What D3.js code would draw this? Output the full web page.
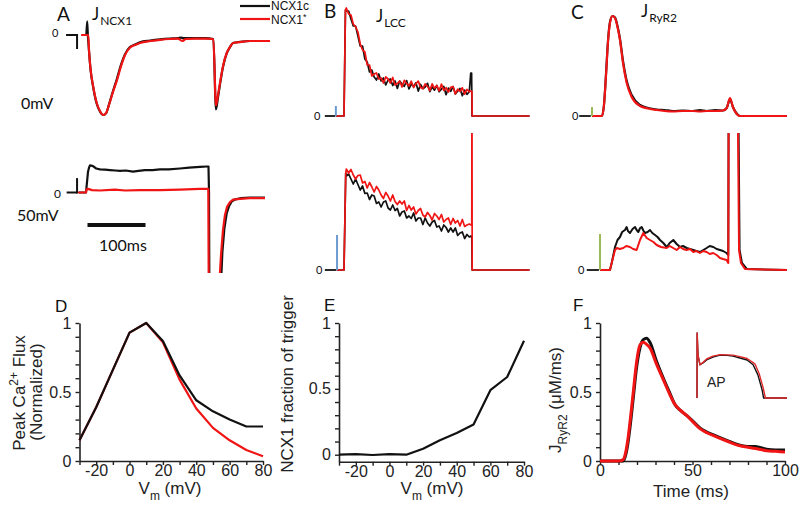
<!DOCTYPE html>
<html><head><meta charset="utf-8">
<script src="https://cdn.jsdelivr.net/npm/d3@7"></script>
<style>
body{margin:0;background:#fff}
svg{display:block}
.lato{font-family:Lato,"Liberation Sans",sans-serif}
.hel{font-family:"Liberation Sans",Arial,sans-serif}
</style>
</head><body>
<svg id="c" width="800" height="510"></svg>
<script>
// ---------------- DATA ----------------
const RED = "#f01414", BLK = "#111111";
// Panel A top (0 mV) J_NCX1, normalised units (time in ms)
const aTopT    = [-11,-1,1.4,2.6,5.5,9.5,15.9,21.6,27.2,32,37,44,51,57.8,64.7,73,82,90.5,107.8,125,142,156,163,170,185,202.6,217,221.5,225,228.4,233.6,240,245.7,251,263,280,314.7];
const aTopRed  = [0,0,0,-0.19,-0.44,-0.63,-0.85,-0.95,-1.0,-0.975,-0.875,-0.71,-0.56,-0.39,-0.25,-0.16,-0.125,-0.1,-0.075,-0.06,-0.05,-0.045,-0.075,-0.05,-0.045,-0.045,-0.05,-0.88,-0.75,-0.6,-0.39,-0.225,-0.15,-0.1,-0.09,-0.075,-0.075];
const aTopBlkT = [-2,-0.6,0.6,2.6,5.5,9.5,15.9,21.6,27.2,32,37,44,51,57.8,64.7,73,82,90.5,107.8,125,142,156,161,166,185,202.6,217,221.5,225,228.4,233.6,240,245.7,251,263,280,314.7];
const aTopBlk  = [0,0.17,0,-0.2,-0.45,-0.64,-0.86,-0.96,-1.0,-0.98,-0.87,-0.70,-0.54,-0.37,-0.24,-0.15,-0.12,-0.09,-0.07,-0.055,-0.045,-0.04,-0.032,-0.04,-0.04,-0.04,-0.05,-0.93,-0.78,-0.62,-0.40,-0.23,-0.15,-0.1,-0.085,-0.075,-0.075];
// Panel A bottom (50 mV)
const aBotBlkT = [-14.7,-2.6,0.9,2.6,4.3,9.5,15,21.6,30,38.8,48,56,66,78.4,88,99,112,125,140,159.5,175,194,206,208.6,209.5,210.5,229.5,231,232.5,236,240,244,249,255,265,280,306];
const aBotBlk  = [0,0,0.26,0.31,0.34,0.33,0.30,0.29,0.285,0.28,0.275,0.27,0.275,0.26,0.27,0.28,0.28,0.29,0.29,0.30,0.31,0.32,0.325,0.325,0,-2,-1.5,-1.0,-0.75,-0.45,-0.26,-0.17,-0.11,-0.085,-0.07,-0.065,-0.065];
const aBotRedT = [-16.4,-2.6,-1.7,0.9,7.8,21.6,47,64.7,90.5,125,159.5,194,207.5,208.3,209.5,226.8,228.4,230.2,233.6,237,240.5,245.7,250.9,263,280,306];
const aBotRed  = [0,0,0.04,0.045,0.03,0.025,0.035,0.025,0.03,0.03,0.035,0.045,0.045,0.045,-2,-2,-1.0,-0.78,-0.47,-0.28,-0.18,-0.12,-0.09,-0.08,-0.07,-0.07];
// Panel B J_LCC : edges + noisy segment sampled every 4 ms from t = 4 to 216
const bStep = 4, bStart = 4;
const bTopPreT = [-14,0,2.5], bTopPre = [0,0,1.06];
const bTopRed = [1.08,1.02,1.01,0.92,0.89,0.84,0.72,0.66,0.64,0.51,0.51,0.40,0.42,0.43,0.37,0.38,0.33,0.39,0.37,0.33,0.385,0.31,0.325,0.35,0.29,0.357,0.324,0.30,0.348,0.285,0.322,0.349,0.286,0.273,0.32,0.297,0.254,0.321,0.278,0.305,0.252,0.319,0.256,0.283,0.24,0.287,0.294,0.221,0.268,0.245,0.282,0.219,0.266,0.243];
const bTopBlk = [1.05,1.05,0.97,0.90,0.90,0.80,0.70,0.70,0.57,0.54,0.44,0.46,0.39,0.36,0.42,0.35,0.38,0.31,0.36,0.37,0.305,0.35,0.275,0.35,0.32,0.297,0.354,0.271,0.318,0.295,0.332,0.249,0.316,0.273,0.29,0.327,0.244,0.291,0.258,0.305,0.242,0.269,0.296,0.213,0.28,0.247,0.294,0.221,0.248,0.275,0.202,0.259,0.216,0.243];
const bTopRedEndT = [219,220.5,221,320], bTopRedEnd = [0.25,0.25,0,0];
const bTopBlkEndT = [218.5,220,220.7,320], bTopBlkEnd = [0.43,0.43,0,0];
const bBotPreT = [-12,0,3], bBotPre = [0,0,0.97];
const bBotRed = [1.01,0.97,1.005,0.95,0.91,0.945,0.95,0.87,0.885,0.82,0.875,0.83,0.78,0.835,0.80,0.75,0.715,0.775,0.74,0.69,0.75,0.685,0.655,0.69,0.66,0.69,0.595,0.645,0.60,0.63,0.56,0.595,0.615,0.55,0.53,0.575,0.545,0.50,0.565,0.54,0.505,0.555,0.48,0.505,0.52,0.455,0.515,0.47,0.495,0.44,0.505,0.435,0.45,0.46];
const bBotBlk = [0.94,0.96,0.91,0.86,0.91,0.855,0.80,0.84,0.765,0.77,0.705,0.75,0.74,0.665,0.68,0.63,0.68,0.69,0.62,0.60,0.65,0.595,0.615,0.54,0.58,0.59,0.52,0.54,0.515,0.57,0.49,0.52,0.52,0.455,0.52,0.47,0.44,0.48,0.495,0.43,0.44,0.39,0.45,0.425,0.38,0.42,0.38,0.42,0.345,0.37,0.38,0.315,0.355,0.33];
const bBotRedEndT = [219,220.3,220.6,221,320], bBotRedEnd = [0.45,0.45,2.0,0,0];
const bBotBlkEndT = [219,220.3,221,320], bBotBlkEnd = [0.34,0.34,0,0];
// Panel C J_RyR2
const cTopT   = [-19,-1.7,1.7,5.2,8.6,12,16.4,20.7,25,29.3,34.5,40.9,49.5,63.8,78,92.6,106,120.7,138,155,167,178.8,193,206.9,213.3,219,224,230.5,236,317];
const cTopRed = [0,0,0.11,0.41,0.74,0.93,1.0,0.98,0.89,0.76,0.53,0.33,0.19,0.10,0.075,0.06,0.05,0.045,0.05,0.05,0.045,0.05,0.05,0.055,0.08,0.18,0.09,0.02,0,0];
const cTopBlk = [0,0,0.11,0.42,0.75,0.94,1.0,0.985,0.90,0.77,0.55,0.35,0.21,0.11,0.08,0.065,0.06,0.05,0.055,0.05,0.06,0.05,0.06,0.055,0.08,0.17,0.09,0.025,0,0];
const cBotRedT = [-5,12,15,20.7,24,29,35,40,46.5,52,58,63.8,69.5,75.3,81,87,92.5,100,109.8,115,121,127,132.8,138,144,150,155.7,161,167,173,178.8,184,190,196,201.7,207,213,216,216.6,232.5,234.5,237.9,244.8,317];
const cBotRed  = [0,0,0.07,0.20,0.22,0.21,0.22,0.24,0.23,0.21,0.20,0.30,0.37,0.32,0.30,0.28,0.25,0.23,0.22,0.24,0.22,0.20,0.23,0.21,0.20,0.21,0.18,0.19,0.17,0.19,0.18,0.16,0.17,0.15,0.12,0.11,0.10,0.07,1.6,1.6,0.2,0.07,0.01,0];
const cBotBlkT = [-5,12,15,20.7,25,29.3,33,37.9,40.8,43,46.5,51,55.2,58,60.9,64,66.7,70,72.4,77,81,85,89.7,94,98.3,104,109.8,115,121.2,127,132.8,138,144.3,150,155.7,161,167.2,173,178.7,184,190.2,196,201.7,207,213,216,216.6,233.5,235.5,239.6,248,317];
const cBotBlk  = [0,0,0.07,0.23,0.30,0.33,0.38,0.40,0.43,0.39,0.37,0.41,0.43,0.40,0.38,0.42,0.43,0.39,0.37,0.38,0.40,0.37,0.35,0.33,0.30,0.27,0.23,0.27,0.30,0.26,0.23,0.24,0.22,0.21,0.20,0.19,0.18,0.20,0.22,0.24,0.23,0.21,0.20,0.19,0.17,0.15,1.6,1.6,0.2,0.07,0.01,0];
// Panel D
const vm = [-30,-20,-10,0,10,20,30,40,50,60,70,80];
const dBlk = [0.15,0.39,0.66,0.93,1.0,0.87,0.62,0.44,0.36,0.30,0.25,0.25];
const dRed = [0.15,0.39,0.66,0.93,1.0,0.86,0.59,0.38,0.24,0.15,0.08,0.035];
// Panel E
const eFrac = [0.0,0.005,-0.002,0.004,0.0,0.045,0.11,0.165,0.23,0.49,0.59,0.865];
// Panel F
const fT   = [0,10,12.5,14,15,16.2,18,19.8,21.6,23.4,25.2,27,30.6,34.2,37.8,40.5,43.2,46.8,50.5,54,57.7,63,68.5,75.7,80,84,90,95,100];
const fBlk = [0,0,0,0.05,0.12,0.24,0.46,0.68,0.82,0.88,0.89,0.86,0.72,0.60,0.49,0.41,0.37,0.33,0.285,0.24,0.21,0.18,0.15,0.115,0.105,0.105,0.085,0.08,0.08];
const fRed = [0,0,0.01,0.07,0.15,0.28,0.50,0.72,0.84,0.86,0.845,0.82,0.70,0.59,0.48,0.41,0.37,0.33,0.28,0.235,0.205,0.175,0.145,0.11,0.10,0.09,0.075,0.07,0.065];
// Inset AP (mV vs ms)
const apBlkT = [0,0.5,3.3,10,20,32,53,77,100,120,143,167,187,203,217,222,300];
const apBlk  = [-85,50,4,-16,-12,-6,0,4,3.5,2,-2,-6,-16,-37,-68,-85,-85];
const apRedT = [0,0.5,3.3,10,20,32,53,77,100,120,143,167,193,207,221,228,300];
const apRed  = [-85,50,4,-16,-11,-4,2,5,4.5,4,1,-3,-14,-34,-65,-85,-85];
const vmTicks = [-20,0,20,40,60,80];
const yTicks = [0,0.5,1];
const fTicks = [0,50,100];

// ---------------- HELPERS ----------------
const svg = d3.select("#c");
const zip = (t, v) => t.map((ti, i) => [ti, v[i]]);
const uni = (t0, st, v) => v.map((vi, i) => [t0 + i * st, vi]);
function trace(pts, x, y, color, w, curve, clip) {
  const p = svg.append("path")
    .attr("d", d3.line().x(d => x(d[0])).y(d => y(d[1])).curve(curve || d3.curveLinear)(pts))
    .attr("fill", "none").attr("stroke", color).attr("stroke-width", w)
    .attr("stroke-linejoin", "round");
  if (clip) p.attr("clip-path", `url(#${clip})`);
  return p;
}
function clipRect(id, x, y, w, h) {
  svg.append("clipPath").attr("id", id).append("rect").attr("x", x).attr("y", y).attr("width", w).attr("height", h);
}
function seg(x1, y1, x2, y2, c, w) {
  svg.append("line").attr("x1", x1).attr("y1", y1).attr("x2", x2).attr("y2", y2).attr("stroke", c).attr("stroke-width", w);
}
function txt(x, y, s, size, cls, anchor) {
  return svg.append("text").attr("x", x).attr("y", y).attr("class", cls).attr("font-size", size)
    .attr("text-anchor", anchor || "start").attr("fill", "#111").text(s);
}
function jlabel(x, y, sub) {
  const t = svg.append("text").attr("x", x).attr("y", y).attr("class", "lato").attr("fill", "#111").attr("font-size", 17);
  t.append("tspan").text("J");
  t.append("tspan").attr("font-size", 12).attr("dy", 5).attr("dx", 1).text(sub);
}

// ---------------- PANEL A ----------------
const xA = d3.scaleLinear().domain([0, 100]).range([87.5, 145.5]);
const yAt = d3.scaleLinear().domain([0, -1]).range([35, 115]);
const yAb = d3.scaleLinear().domain([0, -1]).range([192.5, 272.5]);
clipRect("clipAb", 0, 125, 800, 148);
trace(zip(aTopBlkT, aTopBlk), xA, yAt, BLK, 2.2, d3.curveMonotoneX);
trace(zip(aTopT, aTopRed), xA, yAt, RED, 2.2, d3.curveMonotoneX);
trace(zip(aBotBlkT, aBotBlk), xA, yAb, BLK, 2.2, d3.curveLinear, "clipAb");
trace(zip(aBotRedT, aBotRed), xA, yAb, RED, 2.2, d3.curveLinear, "clipAb");
// scale marks
seg(xA(-37), yAt(0), xA(-18), yAt(0), BLK, 2); seg(xA(-18), yAt(0) - 1, xA(-18), yAt(-0.175), BLK, 2);
seg(xA(-36), yAb(0), xA(-18), yAb(0), BLK, 2); seg(xA(-18), yAb(0) + 1, xA(-18), yAb(0.18), BLK, 2);
seg(xA(0), 225, xA(100), 225, BLK, 4);
txt(52, 37, "0", 11, "lato"); txt(54, 197.5, "0", 12, "lato");
txt(21, 109, "0mV", 16, "lato"); txt(17, 221, "50mV", 16, "lato"); txt(99, 251, "100ms", 16, "lato");
txt(57, 21, "A", 19, "lato"); jlabel(92, 20, "NCX1");
// legend
seg(240, 6, 270, 6, BLK, 2.2); seg(240, 19, 270, 19, RED, 2.2);
txt(271, 10, "NCX1c", 12, "hel");
const lg = txt(271, 24, "NCX1", 12, "hel"); lg.append("tspan").attr("dy", -4).attr("font-size", 9).text("*");

// ---------------- PANEL B ----------------
const xB = d3.scaleLinear().domain([0, 100]).range([344, 402]);
const yBt = d3.scaleLinear().domain([0, 1]).range([116, 16]);
const yBb = d3.scaleLinear().domain([0, 1]).range([270, 170]);
clipRect("clipBb", 300, 133, 260, 160);
trace(zip(bTopPreT, bTopPre).concat(uni(bStart, bStep, bTopBlk), zip(bTopBlkEndT, bTopBlkEnd)), xB, yBt, BLK, 1.7);
trace(zip(bTopPreT, bTopPre).concat(uni(bStart, bStep, bTopRed), zip(bTopRedEndT, bTopRedEnd)), xB, yBt, RED, 1.7);
trace(zip(bBotPreT, bBotPre).concat(uni(bStart, bStep, bBotBlk), zip(bBotBlkEndT, bBotBlkEnd)), xB, yBb, BLK, 1.7, null, "clipBb");
trace(zip(bBotPreT, bBotPre).concat(uni(bStart, bStep, bBotRed), zip(bBotRedEndT, bBotRedEnd)), xB, yBb, RED, 1.7, null, "clipBb");
seg(xB(-33), yBt(0), xB(-15), yBt(0), BLK, 1.8); seg(xB(-14), yBt(0), xB(-14), yBt(0.1), "#6b9bd1", 2);
seg(xB(-33), yBb(0), xB(-13), yBb(0), BLK, 1.8); seg(xB(-12), yBb(0), xB(-12), yBb(0.35), "#6b9bd1", 2);
txt(314, 120, "0", 11, "lato"); txt(316, 273.5, "0", 11, "lato");
txt(324, 18, "B", 19, "lato"); jlabel(376, 22, "LCC");

// ---------------- PANEL C ----------------
const xC = d3.scaleLinear().domain([0, 100]).range([603, 661]);
const yCt = d3.scaleLinear().domain([0, 1]).range([116, 16]);
const yCb = d3.scaleLinear().domain([0, 1]).range([270, 170]);
clipRect("clipCb", 560, 133, 240, 160);
trace(zip(cTopT, cTopBlk), xC, yCt, BLK, 2.2, d3.curveMonotoneX);
trace(zip(cTopT, cTopRed), xC, yCt, RED, 2.2, d3.curveMonotoneX);
trace(zip(cBotBlkT, cBotBlk), xC, yCb, BLK, 2, null, "clipCb");
trace(zip(cBotRedT, cBotRed), xC, yCb, RED, 2, null, "clipCb");
seg(xC(-41), yCt(0), xC(-21), yCt(0), BLK, 1.8); seg(xC(-19), yCt(0), xC(-19), yCt(0.09), "#9bbb59", 2);
seg(xC(-28), yCb(0), xC(-7), yCb(0), BLK, 1.8); seg(xC(-5.2), yCb(0), xC(-5.2), yCb(0.36), "#9bbb59", 2);
txt(572, 119.5, "0", 11, "lato"); txt(578, 273.5, "0", 11, "lato");
txt(571, 19, "C", 19, "lato"); jlabel(641, 17, "RyR2");

// ---------------- AXES HELPERS ----------------
function axes(x, y, xTickVals, xLabVals, yTickVals, yLabVals, x0, yBase) {
  const gx = svg.append("g").attr("class", "hel").attr("transform", `translate(0,${yBase})`)
    .call(d3.axisBottom(x).tickValues(xTickVals).tickSize(4).tickSizeOuter(0).tickPadding(0)
      .tickFormat(d => xLabVals.includes(d) ? String(d) : ""));
  const gy = svg.append("g").attr("class", "hel").attr("transform", `translate(${x0},0)`)
    .call(d3.axisLeft(y).tickValues(yTickVals).tickSize(4).tickSizeOuter(0).tickPadding(4)
      .tickFormat(d => yLabVals.some(v => Math.abs(v - d) < 1e-9) ? String(+d.toFixed(1)) : ""));
  [gx, gy].forEach(g => {
    g.selectAll("path").attr("stroke", "#222").attr("stroke-width", 1.6);
    g.selectAll("line").attr("stroke", "#222").attr("stroke-width", 1.4);
    g.selectAll("text").attr("font-size", 16).attr("fill", "#222").attr("font-family", "Liberation Sans, Arial, sans-serif");
  });
}
const tenTicks = d3.range(-30, 81, 10);
const tenthTicks = d3.range(0, 1.0001, 0.1).map(v => +v.toFixed(1));

// ---------------- PANEL D ----------------
const xD = d3.scaleLinear().domain([-30, 80]).range([79.5, 263]);
const yD = d3.scaleLinear().domain([0, 1]).range([461, 323]);
axes(xD, yD, tenTicks, vmTicks, tenthTicks, yTicks, 79.5, 461);
trace(zip(vm, dRed), xD, yD, RED, 2.2);
trace(zip(vm, dBlk), xD, yD, BLK, 2.2);
txt(55, 312, "D", 17, "hel");
function vmLabel(cx) {
  const t = svg.append("text").attr("x", cx).attr("y", 494).attr("text-anchor", "middle").attr("class", "hel")
    .attr("font-size", 17).attr("fill", "#222");
  t.append("tspan").text("V");
  t.append("tspan").attr("font-size", 12).attr("dy", 6).text("m");
  t.append("tspan").attr("dy", -6).text(" (mV)");
}
vmLabel(170);
{
  const t = svg.append("text").attr("transform", "translate(25,393) rotate(-90)").attr("text-anchor", "middle")
    .attr("class", "hel").attr("font-size", 17).attr("fill", "#222");
  t.append("tspan").text("Peak Ca");
  t.append("tspan").attr("font-size", 12).attr("dy", -7).text("2+");
  t.append("tspan").attr("dy", 7).text(" Flux");
  svg.append("text").attr("transform", "translate(42,392) rotate(-90)").attr("text-anchor", "middle")
    .attr("class", "hel").attr("font-size", 17).attr("fill", "#222").text("(Normalized)");
}

// ---------------- PANEL E ----------------
const xE = d3.scaleLinear().domain([-30, 80]).range([339, 524]);
const yE = d3.scaleLinear().domain([-0.053, 1]).range([461.7, 323]);
axes(xE, yE, tenTicks, vmTicks, tenthTicks, yTicks, 339, 461.7);
trace(zip(vm, eFrac), xE, yE, BLK, 2.2);
txt(324, 311, "E", 17, "hel");
vmLabel(432);
svg.append("text").attr("transform", "translate(293,384) rotate(-90)").attr("text-anchor", "middle")
  .attr("class", "hel").attr("font-size", 17).attr("fill", "#222").text("NCX1 fraction of trigger");

// ---------------- PANEL F ----------------
const xF = d3.scaleLinear().domain([0, 100]).range([600, 785]);
const yF = d3.scaleLinear().domain([0, 1]).range([461, 323]);
axes(xF, yF, d3.range(0, 101, 10), fTicks, tenthTicks, yTicks, 600, 461);
trace(zip(fT, fBlk), xF, yF, BLK, 3, d3.curveMonotoneX);
trace(zip(fT, fRed), xF, yF, RED, 3, d3.curveMonotoneX);
txt(573, 311, "F", 17, "hel");
svg.append("text").attr("x", 691).attr("y", 497).attr("text-anchor", "middle").attr("class", "hel")
  .attr("font-size", 17).attr("fill", "#222").text("Time (ms)");
{
  const t = svg.append("text").attr("transform", "translate(561,400) rotate(-90)").attr("text-anchor", "middle")
    .attr("class", "hel").attr("font-size", 17).attr("fill", "#222");
  t.append("tspan").text("J");
  t.append("tspan").attr("font-size", 12).attr("dy", 6).text("RyR2");
  t.append("tspan").attr("dy", -6).text(" (\u03bcM/ms)");
}
// inset AP
const xAP = d3.scaleLinear().domain([0, 300]).range([697, 787]);
const yAP = d3.scaleLinear().domain([-85, 50]).range([398, 333]);
trace(zip(apBlkT, apBlk), xAP, yAP, BLK, 1.4);
trace(zip(apRedT, apRed), xAP, yAP, "#e0282a", 1.4);
svg.append("text").attr("x", 707).attr("y", 387).attr("class", "hel").attr("font-size", 14).attr("fill", "#222").text("AP");
</script>
</body></html>
